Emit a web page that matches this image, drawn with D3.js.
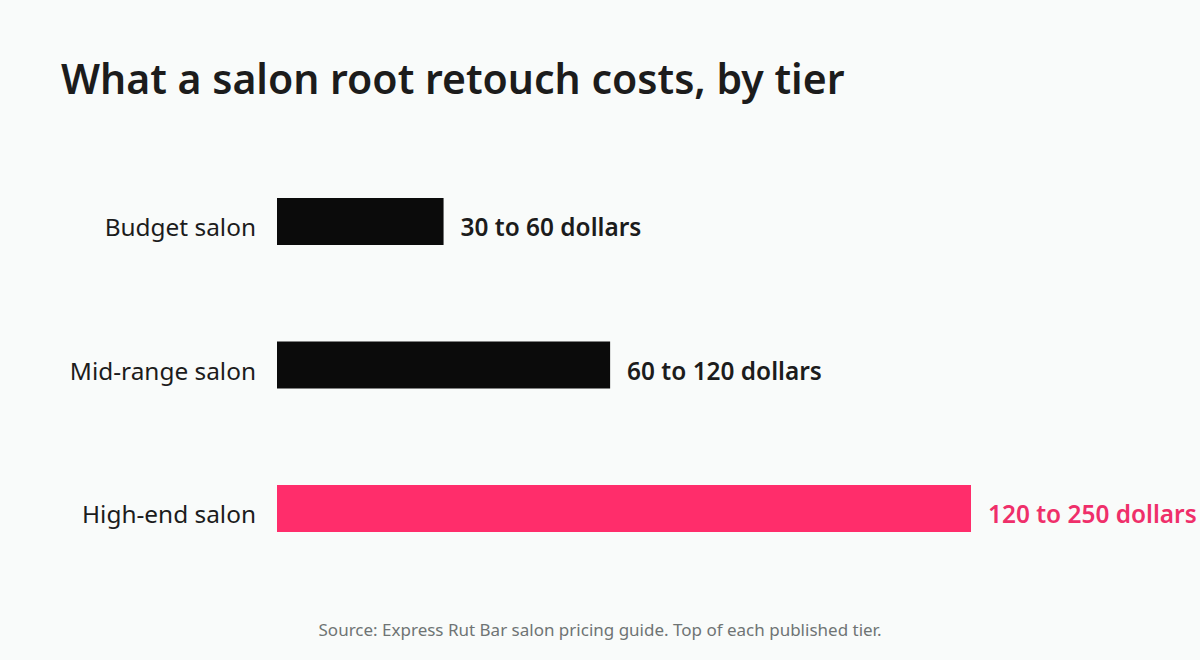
<!DOCTYPE html>
<html><head><meta charset="utf-8">
<script src="https://cdn.jsdelivr.net/npm/d3@7"></script>
<style>
html,body{margin:0;padding:0;background:#f9fbfa;}
svg{display:block;}
</style></head>
<body>
<svg id="c" width="1200" height="660"></svg>
<script>
const categories = ["Budget salon", "Mid-range salon", "High-end salon"];
const lowValues = [30, 60, 120];
const highValues = [60, 120, 250];
const valueLabels = ["30 to 60 dollars", "60 to 120 dollars", "120 to 250 dollars"];
const highlight = [false, false, true];

const svg = d3.select("#c");
const W = 1200, H = 660;
const font = "'Noto Sans', 'Open Sans', sans-serif";
svg.append("rect").attr("width", W).attr("height", H).attr("fill", "#f9fbfa");

svg.append("text").attr("x", 61).attr("y", 94)
  .attr("font-family", font).attr("font-size", 41).attr("font-weight", 600)
  .attr("fill", "#1c1c1c").text("What a salon root retouch costs, by tier");

const x = d3.scaleLinear().domain([0, 250]).range([277, 971]);
const y = d3.scaleBand().domain(categories).range([126.25, 603.75]).paddingInner(0.6725).paddingOuter(0.5);

const g = svg.append("g");
categories.forEach((c, i) => {
  const yy = y(c);
  const cy = yy + y.bandwidth() / 2;
  g.append("rect").attr("x", x(0)).attr("y", yy).attr("width", x(highValues[i]) - x(0))
    .attr("height", y.bandwidth()).attr("fill", highlight[i] ? "#ff2d6b" : "#0b0b0b");
  g.append("text").attr("x", 256).attr("y", cy + 14.5)
    .attr("text-anchor", "end").attr("font-family", font).attr("font-size", 24.4)
    .attr("fill", "#1c1c1c").text(c);
  g.append("text").attr("x", x(highValues[i]) + 17).attr("y", cy + 14.5)
    .attr("font-family", font).attr("font-size", 24.4).attr("font-weight", 600)
    .attr("fill", highlight[i] ? "#ef2f6a" : "#1c1c1c").text(valueLabels[i]);
});

svg.append("text").attr("x", 600).attr("y", 636).attr("text-anchor", "middle")
  .attr("font-family", font).attr("font-size", 17).attr("fill", "#6f7474")
  .text("Source: Express Rut Bar salon pricing guide. Top of each published tier.");
</script>
</body></html>
